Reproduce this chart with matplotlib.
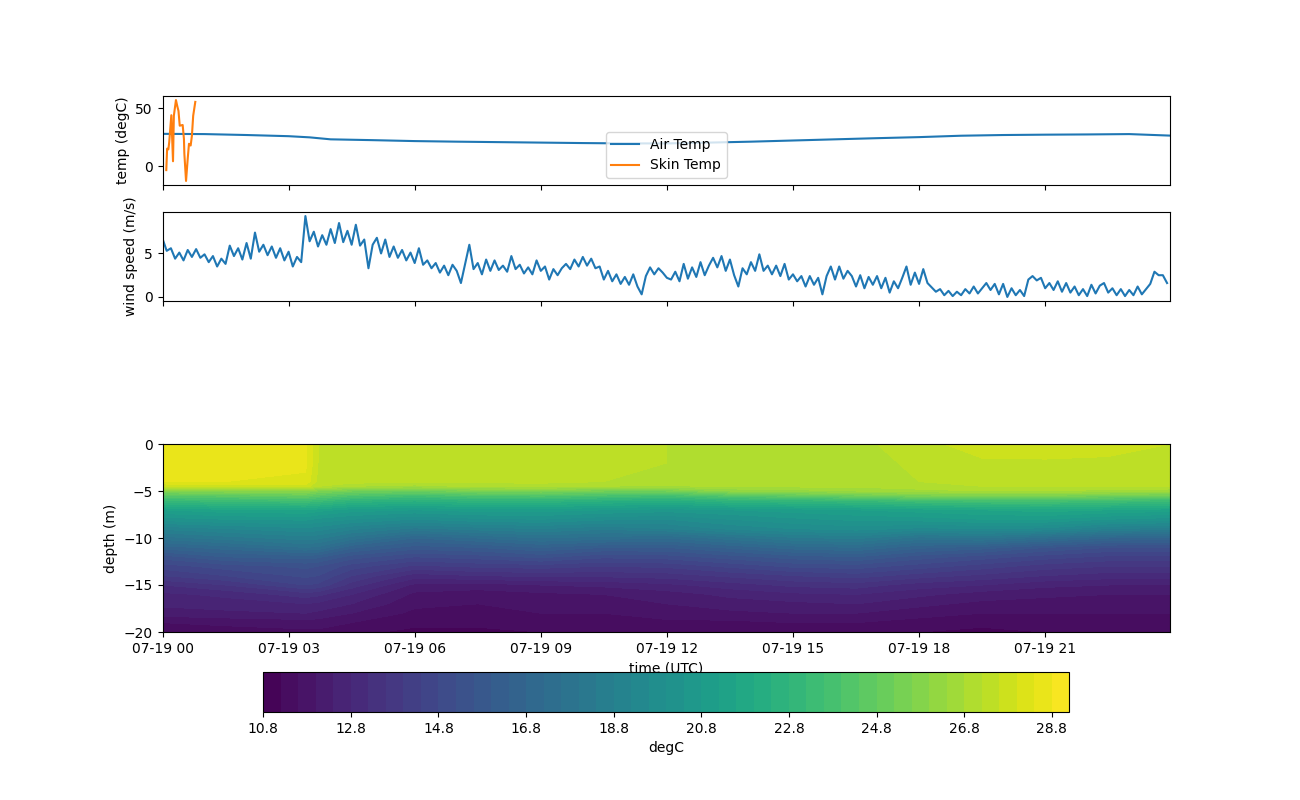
#!/usr/bin/env python
# -*- coding: utf-8 -*-

"""
Air / skin temperature, wind speed and water temperature section for one day
"""

import sys

import numpy as np
import pandas as pd
import matplotlib
matplotlib.use('Agg')
import matplotlib.pyplot as plt

START = pd.Timestamp('2021-07-19 00:00')

# air temperature (hours since start, degC)
air_hours = [0, 1, 2, 3, 3.5, 4, 5, 6, 7, 8, 9, 10, 11, 12, 13, 14, 15, 16,
             17, 18, 19, 20, 21, 22, 23, 23.97]
air_temp = [28.0, 27.8, 27.0, 26.0, 25.0, 23.3, 22.6, 21.8, 21.3, 20.9, 20.5,
            20.1, 19.8, 19.8, 20.5, 21.3, 22.3, 23.3, 24.3, 25.2, 26.4, 27.0,
            27.3, 27.5, 27.8, 26.5]

# skin temperature, only a short burst at the start of the record
skin_hours = [0.09, 0.11, 0.14, 0.16, 0.21, 0.25, 0.27, 0.32, 0.35, 0.38, 0.41,
              0.48, 0.51, 0.52, 0.56, 0.60, 0.63, 0.67, 0.70, 0.73, 0.78]
skin_temp = [-3.1, 15.3, 14.7, 20.9, 44.0, 4.5, 43.5, 57.0, 52.0, 47.7, 35.0,
             35.6, 23.7, 11.0, -12.4, 6.8, 19.5, 18.0, 26.5, 43.5, 55.4]

# wind speed, one value every 6 minutes (m/s)
wind_speed = [
    6.7, 5.3, 5.6, 4.4, 5.1, 4.2, 5.4, 4.6, 5.5, 4.5,
    4.9, 4.0, 4.7, 3.5, 4.4, 3.8, 5.9, 4.7, 5.6, 4.3,
    6.2, 4.4, 7.4, 5.2, 6.0, 4.8, 5.8, 4.5, 5.6, 4.2,
    5.2, 3.5, 4.6, 4.0, 9.3, 6.4, 7.5, 5.8, 7.1, 6.0,
    7.8, 6.2, 8.5, 6.3, 7.6, 6.0, 8.3, 5.9, 6.6, 3.3,
    6.0, 6.8, 5.0, 6.6, 4.6, 5.8, 4.5, 5.4, 4.2, 5.1,
    3.9, 5.6, 3.7, 4.2, 3.3, 3.9, 2.8, 3.6, 2.5, 3.7,
    3.0, 1.6, 3.8, 6.0, 3.2, 3.9, 2.6, 4.3, 3.0, 4.2,
    3.1, 3.6, 2.9, 4.7, 3.2, 3.7, 2.7, 3.4, 2.6, 4.2,
    3.0, 3.5, 2.0, 3.2, 2.5, 3.3, 3.8, 3.2, 4.3, 3.5,
    4.6, 3.6, 4.4, 3.3, 3.5, 2.0, 3.0, 1.8, 2.6, 1.5,
    2.3, 1.4, 2.6, 1.2, 0.3, 2.4, 3.4, 2.6, 3.3, 2.8,
    2.2, 2.0, 2.9, 1.8, 3.8, 2.1, 3.4, 2.3, 4.0, 2.5,
    3.6, 4.5, 3.4, 4.7, 3.0, 4.3, 2.5, 1.2, 3.3, 2.6,
    4.0, 3.0, 4.9, 3.0, 3.6, 2.6, 3.6, 2.4, 3.8, 2.0,
    2.6, 1.8, 2.4, 1.2, 2.4, 1.4, 2.2, 0.3, 2.4, 3.5,
    2.0, 3.5, 2.1, 3.0, 2.4, 1.2, 2.5, 1.0, 2.3, 1.4,
    2.4, 1.0, 2.2, 0.5, 1.8, 1.0, 2.2, 3.5, 1.4, 2.8,
    1.5, 3.2, 1.6, 1.1, 0.6, 0.9, 0.2, 0.7, 0.1, 0.6,
    0.2, 0.9, 0.4, 1.2, 0.4, 1.0, 1.6, 0.8, 1.5, 0.3,
    1.5, 0.0, 1.0, 0.2, 0.8, 0.1, 2.0, 2.4, 1.9, 2.2,
    1.0, 1.6, 0.8, 1.8, 0.6, 1.6, 0.5, 1.2, 0.2, 0.9,
    0.1, 1.4, 0.4, 1.3, 1.6, 0.5, 1.0, 0.2, 0.9, 0.1,
    0.8, 0.2, 1.2, 0.3, 0.9, 1.5, 2.9, 2.5, 2.5, 1.6,
]

# water temperature section: columns are times (hours), rows are depths (m)
section_hours = [0, 1.5, 3.4, 3.7, 4.5, 6, 7.5, 9, 10.5, 12, 13.5, 15, 16.5, 18,
                 19.5, 21, 22.5, 23.97]
section_depth = [0, -2, -4, -4.5, -5, -5.5, -6, -7, -8, -9, -10, -11, -12, -13,
                 -14, -15, -16, -17, -18, -19, -20]
section_temp = [
    [28.6, 28.6, 28.5, 27.6, 27.5, 27.4, 27.4, 27.4, 27.3, 27.2, 27.1, 27.0, 27.1, 27.4, 27.9, 28.0, 27.8, 27.6],
    [28.6, 28.6, 28.5, 27.6, 27.5, 27.4, 27.4, 27.4, 27.3, 27.2, 27.0, 27.0, 27.0, 27.3, 27.5, 27.5, 27.5, 27.5],
    [28.4, 28.4, 28.3, 27.5, 27.4, 27.3, 27.3, 27.3, 27.2, 27.1, 27.0, 27.0, 27.0, 27.2, 27.4, 27.4, 27.4, 27.4],
    [27.6, 27.8, 27.8, 27.2, 26.8, 26.6, 26.9, 27.0, 26.8, 26.7, 26.9, 26.9, 26.9, 27.1, 27.2, 27.2, 27.2, 27.2],
    [25.8, 25.9, 26.0, 25.6, 25.2, 25.0, 25.4, 25.5, 25.2, 25.2, 26.0, 26.2, 26.4, 26.6, 26.8, 26.8, 26.6, 26.5],
    [24.3, 24.5, 24.8, 24.5, 24.0, 23.6, 24.0, 24.1, 23.8, 23.6, 24.2, 24.6, 25.0, 25.4, 25.5, 25.5, 25.2, 25.0],
    [23.2, 23.4, 23.6, 23.4, 22.8, 22.5, 22.8, 22.8, 22.5, 22.3, 22.8, 23.0, 23.2, 23.6, 23.8, 23.8, 23.6, 23.4],
    [21.2, 21.5, 21.6, 21.4, 21.0, 20.8, 21.0, 21.0, 20.8, 20.6, 20.8, 21.0, 21.2, 21.4, 21.6, 21.8, 21.6, 21.4],
    [20.2, 20.4, 20.5, 20.3, 20.0, 19.6, 19.9, 20.0, 19.7, 19.6, 20.0, 20.3, 20.5, 20.6, 20.8, 20.8, 20.4, 20.2],
    [18.9, 19.2, 19.5, 19.4, 18.9, 18.3, 18.6, 18.8, 18.5, 18.8, 19.3, 19.6, 19.8, 19.5, 19.6, 19.5, 18.8, 18.6],
    [17.8, 18.2, 18.6, 18.5, 17.8, 16.8, 17.2, 17.6, 17.4, 17.2, 17.8, 18.3, 18.5, 17.8, 18.0, 17.4, 16.8, 16.6],
    [16.6, 17.0, 17.6, 17.5, 16.5, 15.8, 16.0, 16.4, 16.0, 16.0, 16.5, 17.0, 17.2, 16.5, 16.2, 15.6, 15.2, 15.2],
    [15.4, 16.0, 16.2, 16.1, 15.4, 14.8, 15.0, 15.3, 14.9, 15.0, 15.4, 15.8, 16.0, 15.4, 15.0, 14.6, 14.3, 14.3],
    [14.6, 15.0, 15.3, 15.2, 14.6, 13.9, 14.1, 14.2, 14.0, 14.1, 14.5, 14.9, 15.0, 14.6, 14.2, 13.8, 13.6, 13.6],
    [14.0, 14.4, 14.9, 14.8, 14.0, 13.0, 13.2, 13.3, 13.3, 13.4, 13.7, 14.0, 14.2, 13.8, 13.5, 13.2, 13.0, 13.0],
    [13.2, 13.6, 14.4, 14.3, 13.4, 12.3, 12.2, 12.4, 12.5, 12.7, 13.0, 13.3, 13.4, 13.0, 12.8, 12.5, 12.4, 12.4],
    [12.7, 12.9, 13.4, 13.3, 12.8, 11.9, 11.8, 11.9, 12.0, 12.2, 12.5, 12.7, 12.8, 12.5, 12.2, 12.1, 12.0, 12.0],
    [12.5, 12.6, 12.8, 12.7, 12.4, 11.7, 11.6, 11.7, 11.8, 12.0, 12.2, 12.3, 12.4, 12.1, 11.9, 11.8, 11.8, 11.8],
    [12.2, 12.3, 12.4, 12.3, 12.0, 11.5, 11.5, 11.6, 11.6, 11.8, 11.9, 12.0, 12.0, 11.8, 11.6, 11.6, 11.6, 11.6],
    [11.6, 11.7, 11.8, 11.8, 11.6, 11.3, 11.3, 11.4, 11.4, 11.5, 11.5, 11.6, 11.6, 11.4, 11.3, 11.4, 11.4, 11.4],
    [11.3, 11.4, 11.5, 11.5, 11.3, 11.1, 11.1, 11.2, 11.2, 11.3, 11.3, 11.3, 11.3, 11.2, 11.1, 11.2, 11.2, 11.2],
]

# colour levels of the section (degC)
level_min = 10.8
level_max = 29.2
level_step = 0.4


def to_time(hours):
    """Convert hours since START into timestamps"""
    return START + pd.to_timedelta(np.asarray(hours, dtype=float), unit='h')


def main():
    """
    Draw the three stacked panels and the horizontal colorbar, save out.png
    """
    fig = plt.figure(figsize=(13, 8), dpi=100)

    ax_temp = fig.add_axes([0.125, 0.76875, 0.775, 0.11125])
    ax_wind = fig.add_axes([0.125, 0.62375, 0.775, 0.11125], sharex=ax_temp)
    ax_sec = fig.add_axes([0.125, 0.21, 0.775, 0.235], sharex=ax_temp)
    cax = fig.add_axes([0.2025, 0.11, 0.62, 0.05])

    # top panel: air and skin temperature
    ax_temp.plot(to_time(air_hours), air_temp, label='Air Temp')
    ax_temp.plot(to_time(skin_hours), skin_temp, label='Skin Temp')
    ax_temp.set_ylabel('temp (degC)')
    ax_temp.legend(loc='lower center')
    ax_temp.tick_params(labelbottom=False)

    # middle panel: wind speed
    wind_time = pd.date_range(START, periods=len(wind_speed), freq='6min')
    ax_wind.plot(wind_time, wind_speed)
    ax_wind.set_ylabel('wind speed (m/s)')
    ax_wind.tick_params(labelbottom=False)

    # bottom panel: temperature section
    levels = np.arange(level_min, level_max + 0.01, level_step)
    cf = ax_sec.contourf(to_time(section_hours), section_depth,
                         np.array(section_temp), levels=levels,
                         cmap='viridis')
    ax_sec.set_ylabel('depth (m)')
    ax_sec.set_xlabel('time (UTC)')
    ax_sec.set_ylim(-20, 0)

    ax_temp.set_xlim(to_time([0])[0], to_time([section_hours[-1]])[0])

    cbar = fig.colorbar(cf, cax=cax, orientation='horizontal')
    cbar.set_ticks(levels[::5])
    cbar.set_label('degC')

    fig.savefig('out.png', dpi=100)
    return 0


if __name__ == '__main__':
    sys.exit(main())
